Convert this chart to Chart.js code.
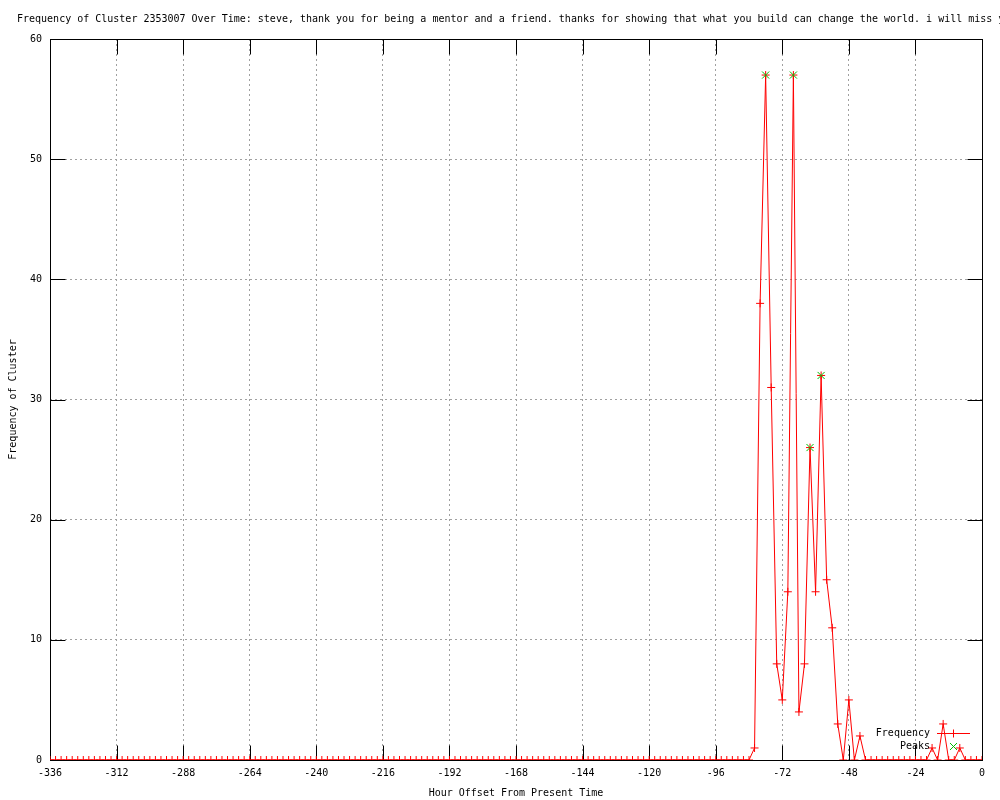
<!DOCTYPE html>
<html lang="en">
<head>
<meta charset="UTF-8">
<title>Frequency of Cluster 2353007 Over Time</title>
<script src="https://cdn.jsdelivr.net/npm/chart.js@4/dist/chart.umd.min.js"></script>
<style>
  html, body { margin: 0; padding: 0; background: #fff; }
  #wrap { width: 1000px; height: 800px; }
</style>
</head>
<body>
<div id="wrap"><canvas id="freqChart" width="1000" height="800"></canvas></div>
<script>
// hour offsets, every 2 hours
var hours = [
  -336,-334,-332,-330,-328,-326,-324,-322,-320,-318,-316,-314,
  -312,-310,-308,-306,-304,-302,-300,-298,-296,-294,-292,-290,
  -288,-286,-284,-282,-280,-278,-276,-274,-272,-270,-268,-266,
  -264,-262,-260,-258,-256,-254,-252,-250,-248,-246,-244,-242,
  -240,-238,-236,-234,-232,-230,-228,-226,-224,-222,-220,-218,
  -216,-214,-212,-210,-208,-206,-204,-202,-200,-198,-196,-194,
  -192,-190,-188,-186,-184,-182,-180,-178,-176,-174,-172,-170,
  -168,-166,-164,-162,-160,-158,-156,-154,-152,-150,-148,-146,
  -144,-142,-140,-138,-136,-134,-132,-130,-128,-126,-124,-122,
  -120,-118,-116,-114,-112,-110,-108,-106,-104,-102,-100,-98,
  -96,-94,-92,-90,-88,-86,-84,-82,-80,-78,-76,-74,
  -72,-70,-68,-66,-64,-62,-60,-58,-56,-54,-52,-50,
  -48,-46,-44,-42,-40,-38,-36,-34,-32,-30,-28,-26,
  -24,-22,-20,-18,-16,-14,-12,-10,-8,-6,-4,-2,
  0
];
var frequency = [
  0,0,0,0,0,0,0,0,0,0,0,0,
  0,0,0,0,0,0,0,0,0,0,0,0,
  0,0,0,0,0,0,0,0,0,0,0,0,
  0,0,0,0,0,0,0,0,0,0,0,0,
  0,0,0,0,0,0,0,0,0,0,0,0,
  0,0,0,0,0,0,0,0,0,0,0,0,
  0,0,0,0,0,0,0,0,0,0,0,0,
  0,0,0,0,0,0,0,0,0,0,0,0,
  0,0,0,0,0,0,0,0,0,0,0,0,
  0,0,0,0,0,0,0,0,0,0,0,0,
  0,0,0,0,0,0,0,1,38,57,31,8,
  5,14,57,4,8,26,14,32,15,11,3,0,
  5,0,2,0,0,0,0,0,0,0,0,0,
  0,0,0,1,0,3,0,0,1,0,0,0,
  0
];
var peakHours = [-78, -68, -62, -58];
var peakValues = [57, 57, 26, 32];

var xTickStep = 24;
var yTickStep = 10;

var freqColor = '#ff0000';
var peakColor = '#00c000';

var titleText = "Frequency of Cluster 2353007 Over Time: steve, thank you for being a mentor and a friend. thanks for showing that what you build can change the world. i will miss you.";
var monoFont = "'DejaVu Sans Mono', 'Liberation Mono', monospace";

function toPoints(xs, ys) {
  return xs.map(function(x, i) { return { x: x, y: ys[i] }; });
}

// gnuplot look: title, box frame, inward mirrored ticks, legend inside
var gnuplotDecor = {
  id: 'gnuplotDecor',
  beforeDraw: function(chart) {
    var ctx = chart.ctx;
    ctx.save();
    ctx.fillStyle = '#fff';
    ctx.fillRect(0, 0, chart.width, chart.height);
    ctx.fillStyle = '#000';
    ctx.font = '10px ' + monoFont;
    ctx.textAlign = 'left';
    ctx.textBaseline = 'middle';
    ctx.fillText(titleText, 17, 19);
    ctx.restore();
  },
  beforeDatasetsDraw: function(chart) {
    var ctx = chart.ctx, a = chart.chartArea;
    var xs = chart.scales.x, ys = chart.scales.y;
    var L = Math.round(a.left) + 0.5, R = Math.round(a.right) + 0.5;
    var T = Math.round(a.top) + 0.5, B = Math.round(a.bottom) + 0.5;
    var len = 15;
    ctx.save();
    ctx.setLineDash([]);
    ctx.strokeStyle = '#000';
    ctx.lineWidth = 1;
    ctx.beginPath();
    xs.ticks.forEach(function(t) {
      var px = Math.round(xs.getPixelForValue(t.value)) + 0.5;
      ctx.moveTo(px, B); ctx.lineTo(px, B - len);
      ctx.moveTo(px, T); ctx.lineTo(px, T + len);
    });
    ys.ticks.forEach(function(t) {
      var py = Math.round(ys.getPixelForValue(t.value)) + 0.5;
      ctx.moveTo(L, py); ctx.lineTo(L + len, py);
      ctx.moveTo(R, py); ctx.lineTo(R - len, py);
    });
    ctx.stroke();
    ctx.strokeRect(L, T, R - L, B - T);
    ctx.restore();
  },
  afterDraw: function(chart) {
    var ctx = chart.ctx;
    var ds = chart.data.datasets;
    var textRight = 930, sx0 = 937, sx1 = 970, mx = 953.5;
    var rows = [733.5, 746.5];
    ctx.save();
    ctx.setLineDash([]);
    ctx.globalAlpha = 1;
    ctx.font = '10px ' + monoFont;
    ctx.fillStyle = '#000';
    ctx.textAlign = 'right';
    ctx.textBaseline = 'middle';
    ctx.fillText(ds[0].label, textRight, rows[0]);
    ctx.fillText(ds[1].label, textRight, rows[1]);
    ctx.lineWidth = 1;
    // frequency sample: line + cross
    ctx.strokeStyle = freqColor;
    ctx.beginPath();
    ctx.moveTo(sx0, rows[0]); ctx.lineTo(sx1, rows[0]);
    ctx.moveTo(mx, rows[0] - 4); ctx.lineTo(mx, rows[0] + 4);
    ctx.stroke();
    // peaks sample: x
    ctx.strokeStyle = peakColor;
    ctx.beginPath();
    ctx.moveTo(mx - 3.5, rows[1] - 3.5); ctx.lineTo(mx + 3.5, rows[1] + 3.5);
    ctx.moveTo(mx - 3.5, rows[1] + 3.5); ctx.lineTo(mx + 3.5, rows[1] - 3.5);
    ctx.stroke();
    ctx.restore();
  }
};

var ctx = document.getElementById('freqChart').getContext('2d');
var freqChart = new Chart(ctx, {
  type: 'line',
  data: {
    datasets: [
      {
        label: 'Frequency',
        data: toPoints(hours, frequency),
        borderColor: freqColor,
        backgroundColor: freqColor,
        borderWidth: 1,
        tension: 0,
        fill: false,
        pointStyle: 'cross',
        pointRadius: 4,
        pointBorderWidth: 1,
        pointBorderColor: freqColor,
        order: 1
      },
      {
        label: 'Peaks',
        data: toPoints(peakHours, peakValues),
        showLine: false,
        borderColor: peakColor,
        backgroundColor: peakColor,
        pointStyle: 'crossRot',
        pointRadius: 5,
        pointBorderWidth: 1,
        pointBorderColor: peakColor,
        order: 0
      }
    ]
  },
  options: {
    responsive: false,
    animation: false,
    events: [],
    layout: { padding: { top: 39, right: 18, bottom: 0, left: 0 } },
    plugins: {
      legend: { display: false },
      tooltip: { enabled: false },
      title: { display: false }
    },
    scales: {
      x: {
        type: 'linear',
        min: -336,
        max: 0,
        afterFit: function(scale) { scale.height = 40; },
        ticks: {
          stepSize: xTickStep,
          color: '#000',
          padding: 7,
          maxRotation: 0,
          autoSkip: false,
          font: { family: monoFont, size: 10 }
        },
        grid: { color: '#a0a0a0', lineWidth: 1, drawTicks: false },
        border: { display: false, dash: [2, 3] },
        title: {
          display: true,
          text: 'Hour Offset From Present Time',
          color: '#000',
          font: { family: monoFont, size: 10 },
          padding: { top: 0, bottom: 1 }
        }
      },
      y: {
        min: 0,
        max: 60,
        afterFit: function(scale) { scale.width = 50; },
        ticks: {
          stepSize: yTickStep,
          color: '#000',
          padding: 8,
          font: { family: monoFont, size: 10 }
        },
        grid: { color: '#a0a0a0', lineWidth: 1, drawTicks: false },
        border: { display: false, dash: [2, 3] },
        title: {
          display: true,
          text: 'Frequency of Cluster',
          color: '#000',
          font: { family: monoFont, size: 10 },
          padding: { top: 7, bottom: 0 }
        }
      }
    }
  },
  plugins: [gnuplotDecor]
});
</script>
</body>
</html>
